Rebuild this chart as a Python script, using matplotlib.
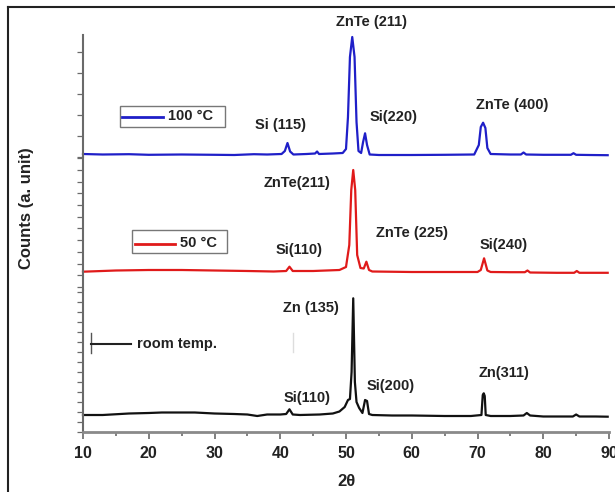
import matplotlib
matplotlib.use("Agg")
import matplotlib.pyplot as plt
from matplotlib.lines import Line2D
from matplotlib.patches import Rectangle
import numpy as np

plt.rcParams['font.family'] = ['Liberation Sans', 'DejaVu Sans']
plt.rcParams['font.weight'] = 'bold'

# ---- data (2theta, counts in a.u. per panel) ----
x_100 = [10, 13, 17, 20, 25, 30, 33, 36, 38, 40.2, 40.7, 41.1, 41.5, 42, 44, 45.3, 45.6, 45.9,
         48, 49.5, 50.0, 50.3, 50.6, 50.95, 51.3, 51.6, 51.9, 52.3, 52.6, 52.9, 53.2, 53.6,
         55, 60, 65, 69.5, 70.2, 70.5, 70.85, 71.2, 71.5, 72, 75, 76.6, 77.0, 77.4, 80,
         84.2, 84.6, 85.0, 87, 89.8]
y_100 = [30, 25, 28, 22, 25, 22, 20, 28, 25, 30, 60, 140, 55, 25, 30, 35, 55, 30,
         35, 40, 80, 400, 1000, 1200, 1000, 350, 60, 40, 150, 237, 120, 25,
         20, 20, 22, 25, 120, 300, 343, 290, 90, 30, 25, 25, 45, 25, 22,
         22, 38, 22, 20, 18]

x_50 = [10, 15, 20, 25, 30, 35, 39, 40.9, 41.4, 41.9, 45, 49, 50.0, 50.5, 50.8, 51.1, 51.4,
        51.7, 52.2, 52.7, 53.1, 53.5, 54, 60, 65, 70, 70.5, 71.0, 71.5, 72, 75, 77.2, 77.6,
        78, 82, 84.7, 85.1, 85.5, 89.8]
y_50 = [183, 195, 200, 200, 195, 190, 185, 190, 233, 190, 190, 200, 230, 450, 1000, 1200, 1000,
        350, 220, 215, 283, 200, 185, 180, 180, 180, 200, 317, 195, 180, 178, 178, 195,
        175, 172, 172, 190, 172, 172]

x_rt = [10, 13, 17, 20, 22, 25, 27, 30, 33, 35, 36.5, 38, 40, 40.9, 41.4, 41.9, 43, 46, 48,
        49, 49.8, 50.3, 50.6, 50.85, 51.1, 51.35, 51.6, 52.0, 52.5, 52.9, 53.2, 53.5, 54,
        57, 60, 65, 69, 70.6, 70.8, 70.95, 71.1, 71.25, 72, 75, 77.0, 77.5, 78.0, 80,
        84.5, 85.0, 85.5, 88, 89.8]
y_rt = [170, 170, 185, 190, 195, 195, 195, 185, 180, 175, 160, 175, 175, 180, 227, 175, 170, 175, 185,
        205, 250, 320, 330, 600, 1337, 500, 300, 240, 190, 320, 310, 180, 170,
        165, 165, 160, 160, 170, 370, 387, 360, 170, 160, 160, 165, 190, 165, 155,
        155, 175, 155, 155, 153]

peaks_100 = [("ZnTe (211)", 53.9, 1353), ("Si(220)", 57.2, 403),
             ("ZnTe (400)", 75.3, 520), ("Si (115)", 40.0, 320)]
peaks_50 = [("ZnTe(211)", 42.6, 1067), ("Si(110)", 42.9, 400),
            ("ZnTe (225)", 60.0, 567), ("Si(240)", 74.0, 450)]
peaks_rt = [("Zn (135)", 44.6, 1237), ("Si(110)", 44.1, 340),
            ("Si(200)", 56.8, 460), ("Zn(311)", 74.0, 590)]

W, H = 615, 492
fig = plt.figure(figsize=(W / 100, H / 100), dpi=100)


def fx(px):
    return px / W


def fy(py):
    return 1 - py / H


def panel(top, bottom):
    return fig.add_axes([fx(83), fy(bottom), fx(609) - fx(83), (bottom - top) / H])


ax1 = panel(35, 157)
ax2 = panel(157, 290)
ax3 = panel(290, 432)

spine_c = '#6a6a6a'
for ax, xs, ys, col, ymax, step, start in [
        (ax1, x_100, y_100, '#1f1fc8', 1220, 210, 0),
        (ax2, x_50, y_50, '#e01a1a', 1330, 117, 30),
        (ax3, x_rt, y_rt, '#111111', 1420, 100, 0)]:
    ax.plot(xs, ys, color=col, lw=1.6, clip_on=False, solid_joinstyle='round')
    ax.set_xlim(10, 90)
    ax.set_ylim(0, ymax)
    ax.patch.set_alpha(0)
    for s in ['top', 'right']:
        ax.spines[s].set_visible(False)
    ax.spines['left'].set_color(spine_c)
    ax.spines['left'].set_linewidth(1.5)
    ax.set_yticks(np.arange(start, ymax, step))
    ax.tick_params(axis='y', length=4, width=0.9, color=spine_c, labelleft=False)

for ax in (ax1, ax2):
    ax.spines['bottom'].set_visible(False)
    ax.tick_params(axis='x', bottom=False, labelbottom=False)

ax3.spines['bottom'].set_color('#8a8a8a')
ax3.spines['bottom'].set_linewidth(2)
ax3.set_xticks(range(10, 91, 10))
ax3.set_xticks(range(15, 90, 10), minor=True)
ax3.tick_params(axis='x', which='major', length=5, width=1.2, color=spine_c,
                labelsize=11.5, labelcolor='#222222', pad=5)
ax3.tick_params(axis='x', which='minor', length=3, width=1.2, color=spine_c)

for ax, pk in [(ax1, peaks_100), (ax2, peaks_50), (ax3, peaks_rt)]:
    for label, px, py in pk:
        ax.text(px, py, label, ha='center', va='center', fontsize=10.5,
                fontweight='bold', color='#222222')

fig.text(fx(27), fy(208), 'Counts (a. unit)', rotation=90, ha='center', va='center',
         fontsize=12, fontweight='bold', color='#222222')
fig.text(fx(347), fy(481), '2θ', ha='center', va='center', fontsize=12,
         fontweight='bold', color='#222222')

# legends
fig.add_artist(Rectangle((fx(120), fy(127)), fx(225) - fx(120), (127 - 106) / H,
                         fill=False, ec='#777777', lw=1))
fig.add_artist(Line2D([fx(122), fx(163)], [fy(117), fy(117)], color='#1f1fc8', lw=2))
fig.text(fx(168), fy(116), '100 °C', ha='left', va='center', fontsize=10.5,
         fontweight='bold', color='#222222')

fig.add_artist(Rectangle((fx(132), fy(253)), fx(227) - fx(132), (253 - 230) / H,
                         fill=False, ec='#777777', lw=1))
fig.add_artist(Line2D([fx(135), fx(175)], [fy(244), fy(244)], color='#e01a1a', lw=2))
fig.text(fx(180), fy(243), '50 °C', ha='left', va='center', fontsize=10.5,
         fontweight='bold', color='#222222')

fig.add_artist(Line2D([fx(91), fx(91)], [fy(333), fy(353)], color='#555555', lw=1))
fig.add_artist(Line2D([fx(91), fx(131)], [fy(344), fy(344)], color='#222222', lw=1.5))
fig.text(fx(137), fy(344), 'room temp.', ha='left', va='center', fontsize=10.5,
         fontweight='bold', color='#222222')
fig.add_artist(Line2D([fx(293), fx(293)], [fy(333), fy(352)], color='#dddddd', lw=1))

# outer frame
fig.add_artist(Line2D([fx(8), fx(8)], [fy(7), 0], color='#222222', lw=1.5))
fig.add_artist(Line2D([fx(8), 1], [fy(7), fy(7)], color='#222222', lw=1.5))

fig.savefig('out.png', dpi=100)
